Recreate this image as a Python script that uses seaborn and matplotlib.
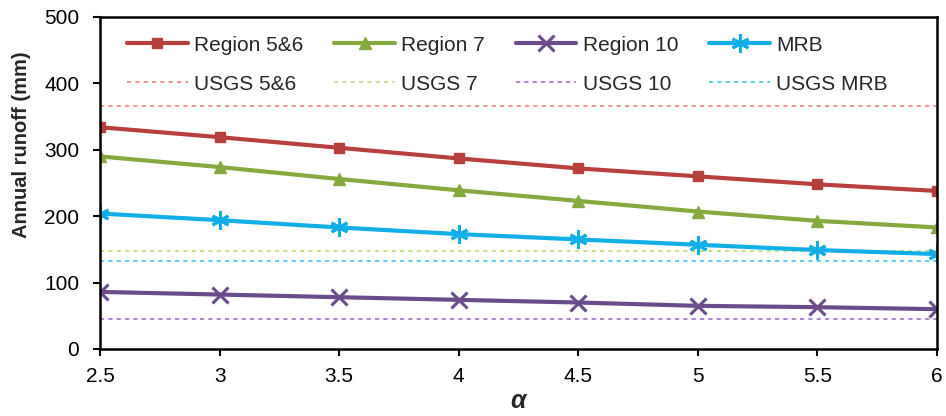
import matplotlib
matplotlib.use("Agg")
import matplotlib.pyplot as plt
import seaborn as sns
import pandas as pd

alpha = [2.5, 3, 3.5, 4, 4.5, 5, 5.5, 6]
region56 = [334, 319, 303, 287, 272, 260, 248, 238]
region7 = [290, 274, 256, 239, 223, 207, 193, 183]
region10 = [86, 82, 78, 74, 70, 65, 63, 60]
mrb = [204, 194, 183, 173, 165, 157, 149, 143]
usgs = {"USGS 5&6": 366, "USGS 7": 148, "USGS 10": 45, "USGS MRB": 132}

sns.set_theme(style="white")
plt.rcParams['font.family'] = ['Liberation Sans', 'DejaVu Sans']

fig = plt.figure(figsize=(9.46, 4.16), dpi=100)
ax = fig.add_axes([100/946, 1-349/416, 837/946, 332/416])

series = [
    ("Region 5&6", region56, "#B8403C", "s", 7, 1, "USGS 5&6", "#F08080"),
    ("Region 7", region7, "#86A93F", "^", 9, 1, "USGS 7", "#B3DE78"),
    ("Region 10", region10, "#6A4C8C", "x", 11, 2.2, "USGS 10", "#A070D0"),
    ("MRB", mrb, "#12AEE8", (6, 2, 0), 13, 2.2, "USGS MRB", "#40C4F0"),
]

handles = []
for name, vals, col, mk, ms, mew, uname, ucol in series:
    df = pd.DataFrame({"alpha": alpha, "runoff": vals})
    sns.lineplot(data=df, x="alpha", y="runoff", ax=ax, color=col, lw=3,
                 marker=mk, markersize=ms, markeredgecolor=col,
                 markeredgewidth=mew, label=name)
    h1 = ax.get_lines()[-1]
    h2 = ax.axhline(usgs[uname], color=ucol, lw=1.2, ls=(0, (2.5, 2.5)), label=uname)
    handles += [h1, h2]

ax.set_xlim(2.5, 6)
ax.set_ylim(0, 500)
ax.set_xticks(alpha)
ax.set_xticklabels(["2.5", "3", "3.5", "4", "4.5", "5", "5.5", "6"])
ax.set_yticks([0, 100, 200, 300, 400, 500])
ax.tick_params(axis='both', labelsize=15, length=5, width=1.5, direction='out',
               bottom=True, left=True, colors='black')
ax.tick_params(axis='x', pad=8)
ax.tick_params(axis='y', pad=10)
for s in ax.spines.values():
    s.set_color('black')
    s.set_linewidth(1.8)
ax.set_xlabel("α", fontsize=18, fontstyle='italic', fontweight='bold', labelpad=2)
ax.set_ylabel("Annual runoff (mm)", fontsize=14.5, fontweight='bold')
ax.yaxis.set_label_coords(-69/837, 0.614)

ax.legend(handles=handles, labels=[h.get_label() for h in handles], ncol=4,
          loc='upper left', bbox_to_anchor=(0.01, 1.0), frameon=False, fontsize=15,
          handlelength=2.9, columnspacing=1.5, handletextpad=0.3, labelspacing=0.95)

fig.savefig("out.png", dpi=100)
